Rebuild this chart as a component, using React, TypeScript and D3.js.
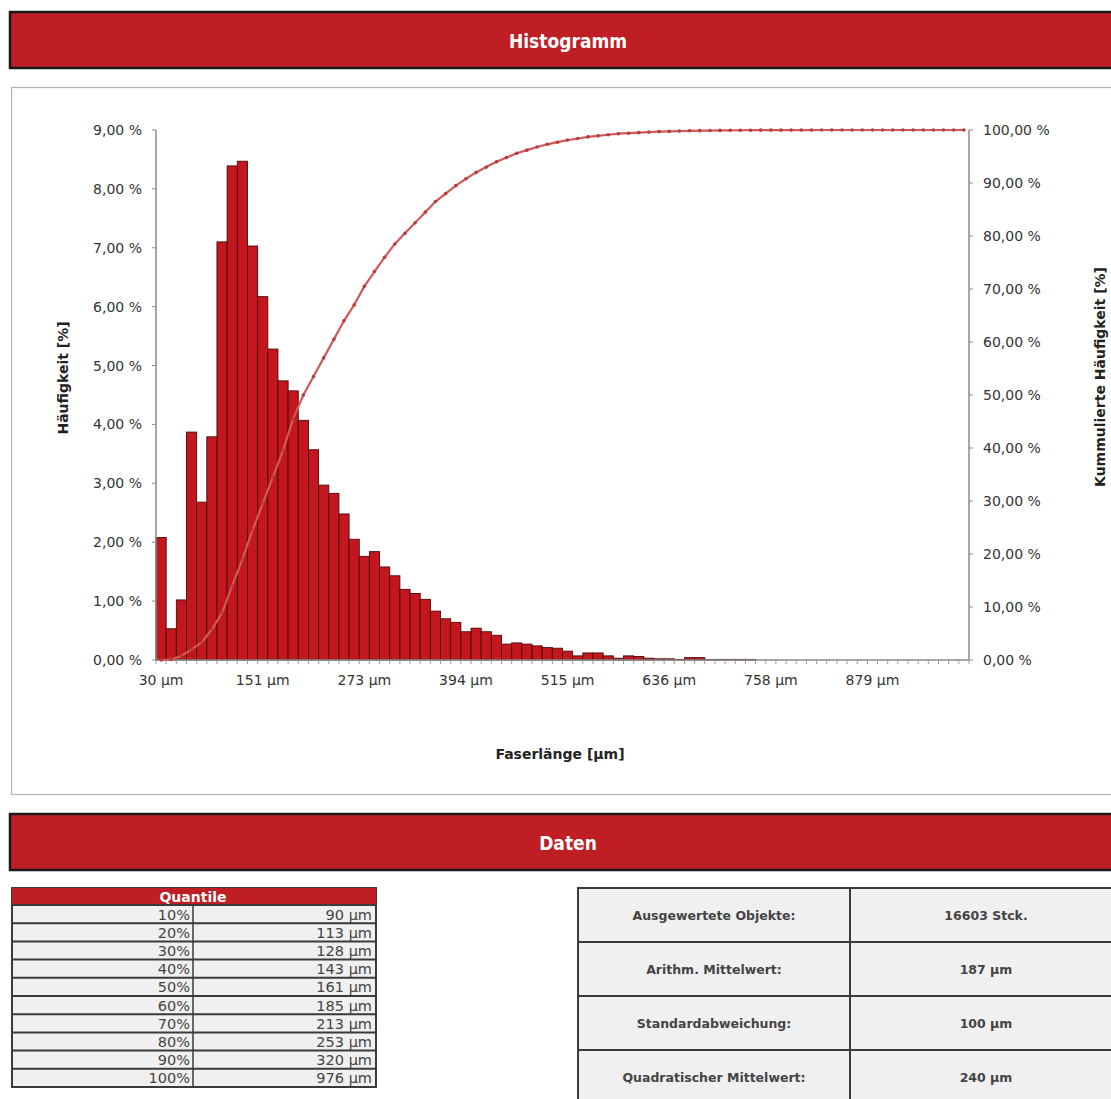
import React from 'react';
import * as d3 from 'd3';

// Histogram bins: relative frequency per class [%]
const binFreq = [
  2.08, 0.53, 1.02, 3.87, 2.68, 3.79, 7.1, 8.39, 8.47, 7.03,
  6.17, 5.28, 4.74, 4.57, 4.07, 3.57, 2.97, 2.83, 2.48, 2.05,
  1.76, 1.84, 1.58, 1.43, 1.2, 1.13, 1.03, 0.83, 0.7, 0.64,
  0.48, 0.54, 0.48, 0.42, 0.27, 0.29, 0.27, 0.24, 0.21, 0.2,
  0.15, 0.07, 0.12, 0.12, 0.07, 0.03, 0.07, 0.06, 0.03, 0.02,
  0.02, 0.01, 0.04, 0.04, 0.01, 0.01, 0.01, 0.01, 0.01, 0,
  0, 0, 0, 0, 0, 0, 0, 0, 0, 0,
  0, 0, 0, 0, 0, 0, 0, 0, 0, 0,
];

// Cumulative frequency curve [%]
const cumFreq = [
  0, 0.1, 0.8, 2.0, 3.3, 5.8, 8.9, 14.0, 19.0, 24.5,
  29.5, 34.5, 39.5, 45.5, 50.0, 53.5, 57.0, 60.5, 64.0, 67.0,
  70.5, 73.3, 76.0, 78.5, 80.5, 82.5, 84.5, 86.5, 88.0, 89.5,
  90.8, 92.0, 93.0, 94.0, 94.8, 95.6, 96.2, 96.8, 97.3, 97.7,
  98.1, 98.4, 98.7, 98.9, 99.1, 99.3, 99.4, 99.5, 99.6, 99.7,
  99.75, 99.8, 99.85, 99.88, 99.9, 99.92, 99.94, 99.95, 99.96, 99.97,
  99.98, 99.98, 99.99, 99.99, 99.99, 100, 100, 100, 100, 100,
  100, 100, 100, 100, 100, 100, 100, 100, 100, 100,
];

const xTickLabels = ['30 µm', '151 µm', '273 µm', '394 µm', '515 µm', '636 µm', '758 µm', '879 µm'];
const leftTicks = [0, 1, 2, 3, 4, 5, 6, 7, 8, 9];
const rightTicks = [0, 10, 20, 30, 40, 50, 60, 70, 80, 90, 100];

const quantileLevels = ['10%', '20%', '30%', '40%', '50%', '60%', '70%', '80%', '90%', '100%'];
const quantileValues = ['90 µm', '113 µm', '128 µm', '143 µm', '161 µm', '185 µm', '213 µm', '253 µm', '320 µm', '976 µm'];

const statLabels = ['Ausgewertete Objekte:', 'Arithm. Mittelwert:', 'Standardabweichung:', 'Quadratischer Mittelwert:'];
const statValues = ['16603 Stck.', '187 µm', '100 µm', '240 µm'];

const RED = '#be1e24';
const FONT = '"DejaVu Sans", Verdana, sans-serif';
const HEAD_FONT = '"DejaVu Sans Condensed", "DejaVu Sans", sans-serif';

const fmt = (v: number) => v.toFixed(2).replace('.', ',') + ' %';

const Header: React.FC<{ y: number; title: string }> = ({ y, title }) => (
  <g>
    <rect x={10} y={y} width={1130} height={56} fill={RED} stroke="#1a1a1a" strokeWidth={2.5} />
    <text x={568} y={y + 29} fill="#fff" fontFamily={HEAD_FONT} fontWeight="bold" fontSize={19} textAnchor="middle" dominantBaseline="central">
      {title}
    </text>
  </g>
);

export default function App() {
  const left = 156;
  const right = 969;
  const top = 130;
  const bottom = 660;

  const idx = binFreq.map((_, i) => i);
  const x = d3.scaleBand<number>().domain(idx).range([left, right]).padding(0);
  const yL = d3.scaleLinear().domain([0, 9]).range([bottom, top]);
  const yR = d3.scaleLinear().domain([0, 100]).range([bottom, top]);
  const bw = x.bandwidth();

  const line = d3.line<number>()
    .x((_, i) => (x(i) as number) + bw / 2)
    .y(d => yR(d));

  // quantile table geometry
  const qx = 12, qy = 888, qw = 364, qSplit = 193, qHead = 17, qRow = 18.2;
  // stats table geometry
  const sx = 578, sy = 888, sSplit = 850, sRight = 1122, sRow = 54;

  return (
    <svg width={1111} height={1099} style={{ position: 'absolute', left: 0, top: 0, background: '#fff' }}>
      <rect width={1111} height={1099} fill="#fff" />
      <Header y={12} title="Histogramm" />

      {/* chart panel */}
      <rect x={11.5} y={87.5} width={1130} height={707} fill="#fff" stroke="#b4b4b4" strokeWidth={1.2} />

      {/* bars */}
      {binFreq.map((v, i) => v > 0 && (
        <rect key={`b${i}`} x={x(i)} y={yL(v)} width={bw} height={bottom - yL(v)}
          fill="#c4161e" stroke="#4a0808" strokeWidth={0.9} />
      ))}

      {/* axes */}
      <line x1={left} x2={left} y1={top} y2={bottom} stroke="#8a8a8a" strokeWidth={1.5} />
      <line x1={right} x2={right} y1={top} y2={bottom} stroke="#8a8a8a" strokeWidth={1.5} />
      <line x1={left} x2={right} y1={bottom} y2={bottom} stroke="#8a8a8a" strokeWidth={1.5} />
      {idx.concat([idx.length]).map(i => {
        const xx = i < idx.length ? (x(i) as number) : right;
        return <line key={`xt${i}`} x1={xx} x2={xx} y1={bottom} y2={bottom + 4} stroke="#9a9a9a" strokeWidth={1} />;
      })}
      {leftTicks.map(t => (
        <g key={`lt${t}`}>
          <line x1={left - 4} x2={left} y1={yL(t)} y2={yL(t)} stroke="#8a8a8a" />
          <text x={142} y={yL(t)} textAnchor="end" dominantBaseline="central" fontFamily={FONT} fontSize={14} fill="#333">{fmt(t)}</text>
        </g>
      ))}
      {rightTicks.map(t => (
        <g key={`rt${t}`}>
          <line x1={right} x2={right + 4} y1={yR(t)} y2={yR(t)} stroke="#8a8a8a" />
          <text x={983} y={yR(t)} dominantBaseline="central" fontFamily={FONT} fontSize={14} fill="#333">{fmt(t)}</text>
        </g>
      ))}
      {xTickLabels.map((l, k) => (
        <text key={l} x={(x(k * 10) as number) + bw / 2} y={680} textAnchor="middle" dominantBaseline="central"
          fontFamily={FONT} fontSize={14} fill="#333">{l}</text>
      ))}

      {/* cumulative curve */}
      <path d={line(cumFreq) || ''} fill="none" stroke="#cf5a5a" strokeWidth={2.2} />
      {cumFreq.map((v, i) => (
        <circle key={`c${i}`} cx={(x(i) as number) + bw / 2} cy={yR(v)} r={1.8} fill="#b83c3c" />
      ))}

      {/* axis titles */}
      <text transform="translate(63,378) rotate(-90)" textAnchor="middle" dominantBaseline="central"
        fontFamily={FONT} fontWeight="bold" fontSize={14} fill="#222">Häufigkeit [%]</text>
      <text transform="translate(1100,377) rotate(-90)" textAnchor="middle" dominantBaseline="central"
        fontFamily={FONT} fontWeight="bold" fontSize={14} fill="#222">Kummulierte Häufigkeit [%]</text>
      <text x={560} y={754} textAnchor="middle" dominantBaseline="central"
        fontFamily={FONT} fontWeight="bold" fontSize={14} fill="#222">Faserlänge [µm]</text>

      <Header y={814} title="Daten" />

      {/* quantile table */}
      <rect x={qx} y={qy} width={qw} height={qHead + qRow * 10} fill="#f0f0f0" stroke="#3a3a3a" strokeWidth={2} />
      <rect x={qx} y={qy} width={qw} height={qHead} fill={RED} />
      <text x={qSplit} y={qy + qHead / 2 + 0.5} textAnchor="middle" dominantBaseline="central"
        fontFamily={FONT} fontWeight="bold" fontSize={14} fill="#fff">Quantile</text>
      {quantileLevels.map((q, i) => {
        const ry = qy + qHead + i * qRow;
        return (
          <g key={q}>
            <line x1={qx} x2={qx + qw} y1={ry} y2={ry} stroke="#3a3a3a" strokeWidth={2} />
            <text x={qSplit - 3} y={ry + qRow / 2 + 0.5} textAnchor="end" dominantBaseline="central"
              fontFamily={FONT} fontSize={14.5} fill="#444">{q}</text>
            <text x={qx + qw - 4} y={ry + qRow / 2 + 0.5} textAnchor="end" dominantBaseline="central"
              fontFamily={FONT} fontSize={14.5} fill="#444">{quantileValues[i]}</text>
          </g>
        );
      })}
      <line x1={qSplit} x2={qSplit} y1={qy + qHead} y2={qy + qHead + qRow * 10} stroke="#3a3a3a" strokeWidth={1.5} />

      {/* stats table */}
      {statLabels.map((l, i) => {
        const ry = sy + i * sRow;
        return (
          <g key={l}>
            <rect x={sx} y={ry} width={sRight - sx} height={sRow} fill="#f0f0f0" stroke="#3a3a3a" strokeWidth={2} />
            <line x1={sSplit} x2={sSplit} y1={ry} y2={ry + sRow} stroke="#3a3a3a" strokeWidth={2} />
            <text x={(sx + sSplit) / 2} y={ry + sRow / 2} textAnchor="middle" dominantBaseline="central"
              fontFamily={FONT} fontWeight="bold" fontSize={12.5} fill="#444">{l}</text>
            <text x={(sSplit + sRight) / 2} y={ry + sRow / 2} textAnchor="middle" dominantBaseline="central"
              fontFamily={FONT} fontWeight="bold" fontSize={12.5} fill="#444">{statValues[i]}</text>
          </g>
        );
      })}
    </svg>
  );
}
